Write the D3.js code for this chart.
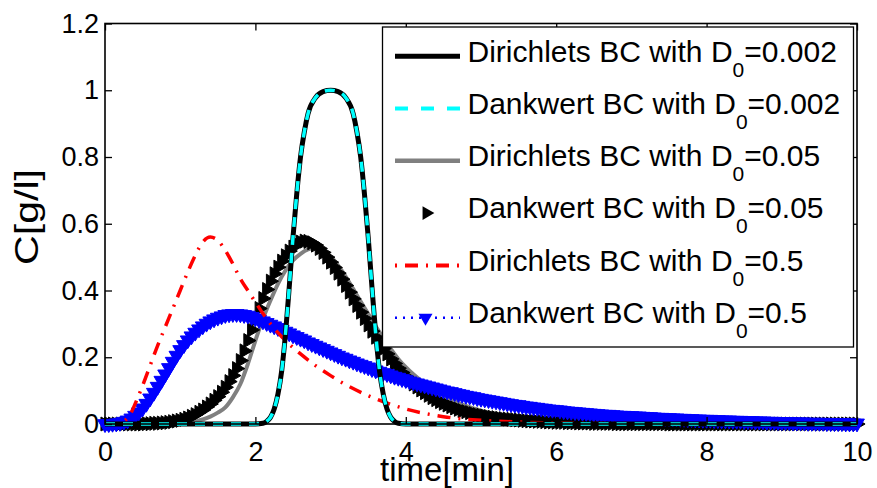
<!DOCTYPE html>
<html>
<head>
<meta charset="utf-8">
<script src="https://cdn.jsdelivr.net/npm/d3@7"></script>
<style>
  html, body { margin: 0; padding: 0; background: #fff; }
  svg { display: block; font-family: 'Liberation Sans', Arial, Helvetica, sans-serif; }
</style>
</head>
<body>
<div id="chart"></div>
<script>
// axis ticks
const xTicks = [0, 2, 4, 6, 8, 10]
const yTicks = [0, 0.2, 0.4, 0.6, 0.8, 1, 1.2]

// legend labels: [prefix, subscript, suffix]
const seriesLabels = [
  ['Dirichlets BC with D', '0', '=0.002'],
  ['Dankwert BC with D', '0', '=0.002'],
  ['Dirichlets BC with D', '0', '=0.05'],
  ['Dankwert BC with D', '0', '=0.05'],
  ['Dirichlets BC with D', '0', '=0.5'],
  ['Dankwert BC with D', '0', '=0.5']
]

// D0 = 0.002 (both boundary conditions give the same pulse)
const pulseT = [0, 2.0, 2.1, 2.15, 2.2, 2.25, 2.3, 2.35, 2.4, 2.45, 2.5, 2.55, 2.6, 2.65, 2.7, 2.8, 2.9, 3.0,
  3.1, 3.2, 3.3, 3.35, 3.4, 3.45, 3.5, 3.55, 3.6, 3.65, 3.7, 3.75, 3.8, 3.85, 3.9, 4.0, 10]
const pulseC = [0, 0, 0.002, 0.008, 0.02, 0.045, 0.09, 0.16, 0.27, 0.41, 0.56, 0.69, 0.8, 0.875, 0.93, 0.978, 0.996, 1,
  0.996, 0.978, 0.93, 0.875, 0.8, 0.69, 0.56, 0.41, 0.27, 0.16, 0.09, 0.045, 0.02, 0.008, 0.002, 0, 0]

// Dirichlets, D0 = 0.05
const dir05T = [0, 0.8, 1.0, 1.2, 1.4, 1.5, 1.6, 1.7, 1.8, 1.9, 2.0, 2.1, 2.2, 2.3, 2.4, 2.5, 2.6, 2.7, 2.8, 2.9,
  3.0, 3.1, 3.2, 3.3, 3.4, 3.5, 3.6, 3.7, 3.8, 3.9, 4.0, 4.2, 4.4, 4.6, 4.8, 5.0, 5.5, 6.0, 6.5, 7.0, 10]
const dir05C = [0, 0, 0.002, 0.008, 0.022, 0.034, 0.05, 0.08, 0.12, 0.18, 0.25, 0.315, 0.37, 0.42, 0.46, 0.49, 0.51, 0.523, 0.527, 0.52,
  0.502, 0.475, 0.442, 0.405, 0.367, 0.33, 0.293, 0.258, 0.225, 0.195, 0.17, 0.13, 0.098, 0.073, 0.054, 0.04, 0.018, 0.007, 0.002, 0.001, 0]

// Dirichlets, D0 = 0.5
const dir5T = [0, 0.1, 0.2, 0.25, 0.3, 0.35, 0.4, 0.5, 0.6, 0.7, 0.8, 0.9, 1.0, 1.1, 1.2, 1.3, 1.4, 1.5, 1.6, 1.7,
  1.8, 1.9, 2.0, 2.2, 2.4, 2.6, 2.8, 3.0, 3.2, 3.5, 4.0, 4.5, 5.0, 5.5, 6.0, 7.0, 8.0, 10]
const dir5C = [0, 0, 0.003, 0.008, 0.018, 0.035, 0.06, 0.115, 0.175, 0.235, 0.29, 0.345, 0.4, 0.455, 0.505, 0.545, 0.56, 0.55, 0.52, 0.48,
  0.435, 0.4, 0.365, 0.3, 0.25, 0.21, 0.175, 0.145, 0.118, 0.085, 0.045, 0.022, 0.011, 0.006, 0.003, 0.001, 0, 0]

// Dankwert series are plotted with markers, sampled every 0.05 min
const markerT = d3.range(201).map(i => i * 0.05)

// Dankwert, D0 = 0.05
const dank05C = [
  0, 0, 0, 0, 0, 0, 0, 0, 0, 0, 0, 0.001, 0.001, 0.002, 0.002, 0.003, 0.004, 0.005, 0.007, 0.009,
  0.011, 0.014, 0.018, 0.023, 0.028, 0.035, 0.042, 0.051, 0.06, 0.071, 0.082, 0.095, 0.11, 0.127, 0.145, 0.166, 0.19, 0.219, 0.25, 0.282,
  0.314, 0.346, 0.376, 0.403, 0.428, 0.45, 0.47, 0.488, 0.504, 0.518, 0.53, 0.539, 0.545, 0.548, 0.547, 0.543, 0.536, 0.526, 0.514, 0.5,
  0.485, 0.469, 0.452, 0.434, 0.415, 0.395, 0.375, 0.355, 0.335, 0.316, 0.297, 0.278, 0.26, 0.243, 0.226, 0.21, 0.195, 0.181, 0.167, 0.154,
  0.142, 0.131, 0.12, 0.111, 0.102, 0.094, 0.086, 0.079, 0.073, 0.067, 0.062, 0.057, 0.052, 0.048, 0.044, 0.04, 0.037, 0.034, 0.031, 0.028,
  0.026, 0.024, 0.022, 0.02, 0.019, 0.017, 0.016, 0.015, 0.014, 0.013, 0.012, 0.011, 0.01, 0.009, 0.009, 0.008, 0.008, 0.007, 0.006, 0.006,
  0.005, 0.005, 0.005, 0.004, 0.004, 0.004, 0.003, 0.003, 0.003, 0.003, 0.002, 0.002, 0.002, 0.002, 0.002, 0.002, 0.001, 0.001, 0.001, 0.001,
  0.001, 0.001, 0.001, 0.001, 0.001, 0.001, 0.001, 0.001, 0.001, 0.001, 0, 0, 0, 0, 0, 0, 0, 0, 0, 0,
  0, 0, 0, 0, 0, 0, 0, 0, 0, 0, 0, 0, 0, 0, 0, 0, 0, 0, 0, 0,
  0, 0, 0, 0, 0, 0, 0, 0, 0, 0, 0, 0, 0, 0, 0, 0, 0, 0, 0, 0, 0
]

// Dankwert, D0 = 0.5
const dank5C = [
  0, 0, 0.001, 0.002, 0.004, 0.007, 0.011, 0.017, 0.025, 0.035, 0.047, 0.061, 0.077, 0.094, 0.112, 0.13, 0.149, 0.168, 0.187, 0.205,
  0.222, 0.237, 0.251, 0.263, 0.274, 0.284, 0.293, 0.301, 0.308, 0.314, 0.319, 0.323, 0.327, 0.329, 0.33, 0.33, 0.329, 0.327, 0.325, 0.321,
  0.317, 0.312, 0.308, 0.303, 0.298, 0.293, 0.288, 0.282, 0.277, 0.272, 0.266, 0.261, 0.256, 0.251, 0.245, 0.24, 0.235, 0.23, 0.225, 0.22,
  0.215, 0.21, 0.205, 0.2, 0.196, 0.191, 0.187, 0.182, 0.178, 0.174, 0.17, 0.165, 0.161, 0.157, 0.153, 0.15, 0.146, 0.142, 0.139, 0.135,
  0.132, 0.128, 0.125, 0.122, 0.119, 0.116, 0.113, 0.11, 0.107, 0.104, 0.101, 0.098, 0.096, 0.093, 0.09, 0.088, 0.085, 0.083, 0.081, 0.078,
  0.076, 0.074, 0.072, 0.07, 0.068, 0.066, 0.064, 0.062, 0.06, 0.058, 0.057, 0.055, 0.053, 0.052, 0.05, 0.049, 0.047, 0.046, 0.044, 0.043,
  0.042, 0.041, 0.039, 0.038, 0.037, 0.036, 0.035, 0.034, 0.033, 0.032, 0.031, 0.03, 0.029, 0.028, 0.028, 0.027, 0.026, 0.025, 0.025, 0.024,
  0.024, 0.023, 0.023, 0.022, 0.021, 0.021, 0.02, 0.019, 0.019, 0.018, 0.018, 0.017, 0.017, 0.016, 0.016, 0.015, 0.015, 0.014, 0.014, 0.013,
  0.013, 0.013, 0.012, 0.012, 0.011, 0.011, 0.011, 0.01, 0.01, 0.01, 0.009, 0.009, 0.009, 0.008, 0.008, 0.008, 0.007, 0.007, 0.007, 0.006,
  0.006, 0.006, 0.006, 0.005, 0.005, 0.005, 0.005, 0.004, 0.004, 0.004, 0.004, 0.004, 0.003, 0.003, 0.003, 0.003, 0.003, 0.002, 0.002, 0.002, 0.002
]

const width = 877
const height = 488
const plot = {left: 105, right: 857, top: 23.5, bottom: 424}

const svg = d3.select('#chart')
  .append('svg')
  .attr('width', width)
  .attr('height', height)

const x = d3.scaleLinear().domain([0, 10]).range([plot.left, plot.right])
const y = d3.scaleLinear().domain([0, 1.2]).range([plot.bottom, plot.top])

const zip = (ts, cs) => ts.map((t, i) => [t, cs[i]])
const line = d3.line()
  .x(d => x(d[0]))
  .y(d => y(d[1]))
  .curve(d3.curveMonotoneX)

const triRight = d3.symbol(d3.symbolTriangle, 85)()
const triDown = d3.symbol(d3.symbolTriangle, 95)()

// series, in drawing order (later on top)
const g = svg.append('g')

g.append('path')
  .attr('d', line(zip(dir05T, dir05C)))
  .attr('fill', 'none')
  .attr('stroke', '#808080')
  .attr('stroke-width', 4)

g.append('g')
  .selectAll('path')
  .data(zip(markerT, dank05C))
  .join('path')
  .attr('d', triRight)
  .attr('transform', d => `translate(${x(d[0])},${y(d[1])}) rotate(90)`)
  .attr('fill', '#000')
  .attr('stroke', '#000')
  .attr('stroke-width', 1)

g.append('path')
  .attr('d', line(zip(markerT, dank5C)))
  .attr('fill', 'none')
  .attr('stroke', '#0000ff')
  .attr('stroke-width', 2)
  .attr('stroke-dasharray', '2,6')

g.append('g')
  .selectAll('path')
  .data(zip(markerT, dank5C))
  .join('path')
  .attr('d', triDown)
  .attr('transform', d => `translate(${x(d[0])},${y(d[1])}) rotate(180)`)
  .attr('fill', '#0000ff')
  .attr('stroke', '#0000ff')
  .attr('stroke-width', 1)

g.append('path')
  .attr('d', line(zip(dir5T, dir5C)))
  .attr('fill', 'none')
  .attr('stroke', '#ff0000')
  .attr('stroke-width', 3.5)
  .attr('stroke-dasharray', '13,8,2,8')

g.append('path')
  .attr('d', line(zip(pulseT, pulseC)))
  .attr('fill', 'none')
  .attr('stroke', '#000')
  .attr('stroke-width', 5)
  .attr('stroke-linejoin', 'round')

g.append('path')
  .attr('d', line(zip(pulseT, pulseC)))
  .attr('fill', 'none')
  .attr('stroke', '#00ffff')
  .attr('stroke-width', 3.5)
  .attr('stroke-dasharray', '10,8')

// axes box with inward ticks on all four sides
const tickLen = 7
const fontSize = 27

const bottomAxis = svg.append('g')
  .attr('transform', `translate(0,${plot.bottom})`)
  .call(d3.axisBottom(x).tickValues(xTicks).tickSizeInner(-tickLen).tickSizeOuter(0)
    .tickPadding(17.5).tickFormat(d3.format('d')))
const topAxis = svg.append('g')
  .attr('transform', `translate(0,${plot.top})`)
  .call(d3.axisTop(x).tickValues(xTicks).tickSizeInner(-tickLen).tickSizeOuter(0).tickFormat(''))
const leftAxis = svg.append('g')
  .attr('transform', `translate(${plot.left},0)`)
  .call(d3.axisLeft(y).tickValues(yTicks).tickSizeInner(-tickLen).tickSizeOuter(0)
    .tickPadding(6).tickFormat(d => String(+d.toFixed(1))))
const rightAxis = svg.append('g')
  .attr('transform', `translate(${plot.right},0)`)
  .call(d3.axisRight(y).tickValues(yTicks).tickSizeInner(-tickLen).tickSizeOuter(0).tickFormat(''))

for (const ax of [bottomAxis, topAxis, leftAxis, rightAxis]) {
  ax.select('.domain').remove()
  ax.selectAll('line').attr('stroke', '#000').attr('stroke-width', 1.3)
  ax.selectAll('text')
    .attr('fill', '#000')
    .attr('font-size', fontSize)
    .attr('font-family', "'Liberation Sans', Arial, Helvetica, sans-serif")
}

svg.append('rect')
  .attr('x', plot.left)
  .attr('y', plot.top)
  .attr('width', plot.right - plot.left)
  .attr('height', plot.bottom - plot.top)
  .attr('fill', 'none')
  .attr('stroke', '#000')
  .attr('stroke-width', 1.6)

// axis labels
svg.append('text')
  .attr('x', 447)
  .attr('y', 481)
  .attr('text-anchor', 'middle')
  .attr('font-size', 33)
  .text('time[min]')

svg.append('text')
  .attr('transform', 'translate(38,217) rotate(-90)')
  .attr('text-anchor', 'middle')
  .attr('font-size', 33)
  .attr('textLength', 96)
  .attr('lengthAdjust', 'spacingAndGlyphs')
  .text('C[g/l]')

// legend
const legend = svg.append('g')
legend.append('rect')
  .attr('x', 382.5)
  .attr('y', 27)
  .attr('width', 471)
  .attr('height', 320)
  .attr('fill', '#fff')
  .attr('stroke', '#000')
  .attr('stroke-width', 1.3)

const rowY = i => 56.2 + i * 52.3
const sampleX0 = 395
const sampleX1 = 460
const sampleMid = (sampleX0 + sampleX1) / 2
const sampleStyles = [
  {stroke: '#000', width: 5, dash: null},
  {stroke: '#00ffff', width: 4, dash: '13,13'},
  {stroke: '#808080', width: 4.5, dash: null},
  null,
  {stroke: '#ff0000', width: 4, dash: '2,8,13,8'},
  {stroke: '#0000ff', width: 2.5, dash: '2,6'}
]

seriesLabels.forEach((lab, i) => {
  const ly = rowY(i)
  const st = sampleStyles[i]
  if (st) {
    legend.append('line')
      .attr('x1', sampleX0).attr('x2', sampleX1)
      .attr('y1', ly).attr('y2', ly)
      .attr('stroke', st.stroke)
      .attr('stroke-width', st.width)
      .attr('stroke-dasharray', st.dash)
  }
  if (i === 3) {
    legend.append('path')
      .attr('d', d3.symbol(d3.symbolTriangle, 80)())
      .attr('transform', `translate(${sampleMid - 1},${ly}) rotate(90)`)
      .attr('fill', '#000')
  }
  if (i === 5) {
    legend.append('path')
      .attr('d', d3.symbol(d3.symbolTriangle, 85)())
      .attr('transform', `translate(${sampleMid - 2},${ly}) rotate(180)`)
      .attr('fill', '#0000ff')
  }
  const t = legend.append('text')
    .attr('x', 467.5)
    .attr('y', ly + 5.3)
    .attr('font-size', 30)
  t.append('tspan').text(lab[0])
  t.append('tspan').attr('font-size', 21).attr('dy', 15).text(lab[1])
  t.append('tspan').attr('dy', -15).text(lab[2])
})
</script>
</body>
</html>
